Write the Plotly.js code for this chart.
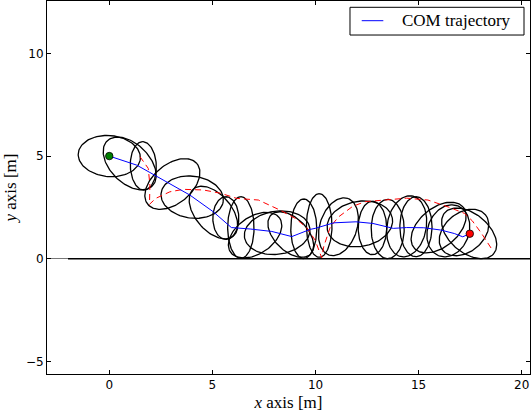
<!DOCTYPE html>
<html>
<head>
<meta charset="utf-8">
<script src="https://cdn.plot.ly/plotly-3.0.1.min.js"></script>
<style>html,body{margin:0;padding:0;background:#fff;}#chart{width:531px;height:420px;}</style>
</head>
<body>
<div id="chart"></div>
<script>
// ellipse footprints: centre, semi-axes, orientation (deg)
const ellCx  = [0.00, 0.99, 1.65, 3.06, 4.02, 5.05, 5.65, 6.38, 7.07, 8.14, 8.80, 9.43, 10.18, 11.11, 12.15, 12.76, 13.50, 14.42, 14.87, 15.97, 16.44, 17.20, 17.45];
const ellCy  = [5.00, 4.64, 4.52, 3.64, 3.00, 2.25, 1.98, 1.52, 1.15, 1.27, 1.18, 1.46, 1.62, 1.56, 1.70, 1.50, 1.45, 1.58, 1.56, 1.52, 1.36, 1.28, 1.24];
const ellA   = [1.51, 1.55, 1.18, 1.55, 1.52, 1.50, 1.04, 1.50, 1.45, 1.60, 1.35, 1.45, 1.55, 1.45, 1.60, 1.30, 1.44, 1.50, 1.46, 1.55, 1.30, 1.35, 1.55];
const ellB   = [1.00, 0.95, 0.63, 0.95, 1.02, 0.88, 0.63, 0.64, 0.90, 1.05, 0.80, 0.63, 0.62, 0.90, 1.10, 0.69, 0.80, 0.95, 0.78, 0.95, 1.00, 0.95, 0.95];
const ellAng = [-5, -45, 92, 40, -8, -50, 90, 90, 35, 8, -45, 90, 90, 72, 10, 90, 90, 80, 90, 40, 70, 40, -40];

// red dashed foot path
const footX = [1.49, 1.89, 1.97, 1.95, 2.25, 2.94, 3.59, 4.56, 5.40, 6.18, 7.23, 8.30, 9.05, 9.58, 9.98, 10.30, 10.40, 10.72, 11.13, 11.80, 12.40, 13.60, 14.42, 15.45, 16.50, 17.22, 17.60, 18.04, 18.56];
const footY = [4.97, 4.40, 3.59, 2.65, 2.94, 3.26, 3.38, 3.35, 3.19, 2.94, 2.86, 2.36, 1.95, 1.50, 0.91, 0.05, 0.60, 1.56, 2.05, 2.55, 2.78, 2.90, 2.95, 2.86, 2.50, 2.21, 1.85, 1.25, 0.45];

// COM trajectory
const comX = [0.00, 1.33, 1.97, 2.94, 3.91, 5.04, 5.92, 6.83, 7.88, 8.85, 9.74, 9.98, 10.89, 11.96, 12.78, 13.77, 14.42, 15.25, 16.07, 16.73, 17.14, 17.47];
const comY = [5.00, 4.56, 4.20, 3.67, 3.10, 2.29, 1.52, 1.45, 1.33, 1.08, 1.43, 1.48, 1.75, 1.80, 1.72, 1.48, 1.52, 1.51, 1.40, 1.23, 1.07, 1.22];

const startPt = [0.00, 5.00];
const endPt = [17.48, 1.22];
const groundX = [-2, 20.5];
const groundY = [0, 0];

const xTicks = [0, 5, 10, 15, 20];
const yTicks = [-5, 0, 5, 10];
const legendLabel = 'COM trajectory';

// build ellipse outlines
const ex = [], ey = [];
for (let i = 0; i < ellCx.length; i++) {
  const t = ellAng[i] * Math.PI / 180;
  for (let k = 0; k <= 120; k++) {
    const p = 2 * Math.PI * k / 120;
    const u = ellA[i] * Math.cos(p), v = ellB[i] * Math.sin(p);
    ex.push(ellCx[i] + u * Math.cos(t) - v * Math.sin(t));
    ey.push(ellCy[i] + u * Math.sin(t) + v * Math.cos(t));
  }
  ex.push(null); ey.push(null);
}

const traces = [
  {x: ex, y: ey, mode: 'lines', line: {color: '#000', width: 1.3}, hoverinfo: 'skip'},
  {x: footX, y: footY, mode: 'lines', line: {color: '#ff0000', width: 1, dash: '6px,4px'}},
  {x: groundX, y: groundY, mode: 'lines', line: {color: '#000', width: 1.6}},
  {x: comX, y: comY, mode: 'lines', name: legendLabel, line: {color: '#0000ff', width: 1}},
  {x: [startPt[0]], y: [startPt[1]], mode: 'markers', marker: {color: '#008000', size: 7.5, line: {color: '#000', width: 0.8}}},
  {x: [endPt[0]], y: [endPt[1]], mode: 'markers', marker: {color: '#ff0000', size: 7.5, line: {color: '#000', width: 0.8}}}
];

const axisCommon = {
  showgrid: false, showline: true, linecolor: '#000', linewidth: 1, mirror: 'ticks',
  ticks: 'inside', ticklen: 4, tickwidth: 1, tickcolor: '#000',
  tickfont: {family: 'DejaVu Sans', size: 12, color: '#000'}
};

// legend box (drawn in paper coordinates of the plot area)
const legendShapes = [
  {type: 'rect', xref: 'paper', yref: 'paper', x0: 0.6273, x1: 0.9876, y0: 0.9088, y1: 0.9831,
   line: {color: '#000', width: 1}, fillcolor: '#fff', layer: 'above'},
  {type: 'line', xref: 'paper', yref: 'paper', x0: 0.6516, x1: 0.6963, y0: 0.9472, y1: 0.9472,
   line: {color: '#0000ff', width: 1}, layer: 'above'}
];

const layout = {
  width: 531, height: 420,
  margin: {l: 47, r: 1, t: 1, b: 46},
  paper_bgcolor: '#fff', plot_bgcolor: '#fff',
  showlegend: false,
  xaxis: Object.assign({}, axisCommon, {
    range: [-3.02, 20.40], tickvals: xTicks, zeroline: false,
    title: {text: '<i>x</i> axis [m]', font: {family: 'Liberation Serif', size: 17, color: '#000'}, standoff: 4}
  }),
  yaxis: Object.assign({}, axisCommon, {
    range: [-5.61, 12.55], tickvals: yTicks,
    zeroline: true, zerolinecolor: '#777', zerolinewidth: 1,
    title: {text: '<i>y</i> axis [m]', font: {family: 'Liberation Serif', size: 17, color: '#000'}, standoff: 4}
  }),
  shapes: legendShapes,
  annotations: [
    {xref: 'paper', yref: 'paper', x: 0.7308, y: 0.9472, xanchor: 'left', yanchor: 'middle',
     text: legendLabel, showarrow: false,
     font: {family: 'Liberation Serif', size: 17, color: '#000'}}
  ]
};

Plotly.newPlot('chart', traces, layout, {displayModeBar: false, staticPlot: true});
</script>
</body>
</html>
